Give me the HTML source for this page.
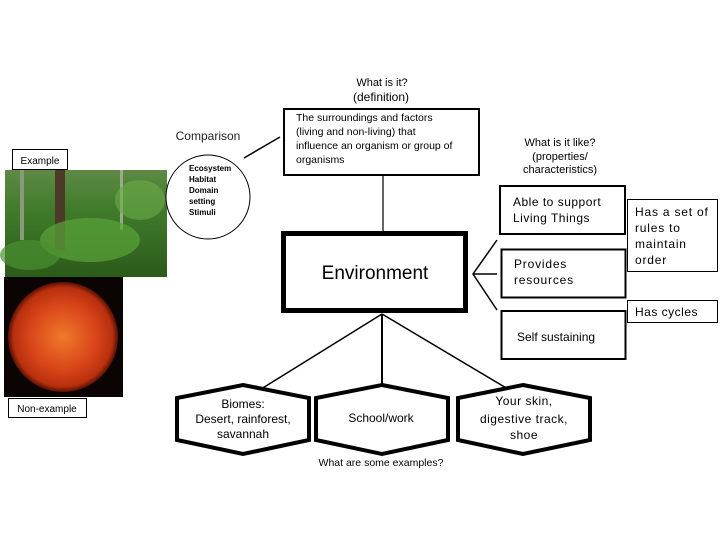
<!DOCTYPE html>
<html><head><meta charset="utf-8"><style>
body{margin:0;background:#fff;}
svg text{font-family:"Liberation Sans",sans-serif;}
</style></head><body>
<svg width="720" height="540" viewBox="0 0 720 540" xmlns="http://www.w3.org/2000/svg">
<defs>
<radialGradient id="sun" cx="50%" cy="50%" r="50%">
<stop offset="0" stop-color="#f07a2a"/><stop offset="0.6" stop-color="#d8451a"/><stop offset="0.9" stop-color="#b8300e"/><stop offset="1" stop-color="#5a1005"/>
</radialGradient>
<linearGradient id="forest" x1="0" y1="0" x2="0" y2="1">
<stop offset="0" stop-color="#5e8a45"/><stop offset="0.4" stop-color="#3f7a2a"/><stop offset="1" stop-color="#2c5a1a"/>
</linearGradient>
</defs>
<rect x="5" y="170" width="162" height="107" fill="url(#forest)"/>
<rect x="55" y="170" width="10" height="80" fill="#4a3a26"/>
<rect x="20" y="170" width="4" height="70" fill="#889a7a"/>
<rect x="120" y="170" width="3" height="60" fill="#9aaa8a"/>
<ellipse cx="90" cy="240" rx="50" ry="22" fill="#5aa43a" opacity="0.7"/>
<ellipse cx="30" cy="255" rx="30" ry="15" fill="#4a9030" opacity="0.7"/>
<ellipse cx="140" cy="200" rx="25" ry="20" fill="#6aac48" opacity="0.6"/>
<rect x="4" y="277" width="119" height="120" fill="#0a0503"/>
<circle cx="63" cy="337" r="55" fill="url(#sun)"/>
<rect x="12.5" y="149.5" width="55" height="20" fill="#fff" stroke="#000"/>
<text x="40" y="164" font-size="10" text-anchor="middle">Example</text>
<rect x="8.5" y="398.5" width="78" height="19" fill="#fff" stroke="#000"/>
<text x="47" y="412" font-size="10" text-anchor="middle">Non-example</text>
<text x="208" y="140" font-size="12" text-anchor="middle" fill="#222">Comparison</text>
<circle cx="208" cy="197" r="42" fill="#fff" stroke="#000" stroke-width="1"/>
<text font-size="8" font-weight="bold"><tspan x="189" y="171">Ecosystem</tspan><tspan x="189" y="182">Habitat</tspan><tspan x="189" y="193">Domain</tspan><tspan x="189" y="204">setting</tspan><tspan x="189" y="215">Stimuli</tspan></text>
<line x1="244" y1="158" x2="280" y2="137" stroke="#000" stroke-width="1.5"/>
<text x="382" y="86" font-size="11" text-anchor="middle">What is it?</text>
<text x="381" y="101" font-size="12" text-anchor="middle">(definition)</text>
<rect x="284" y="109" width="195" height="66" fill="#fff" stroke="#000" stroke-width="2"/>
<text font-size="10.5"><tspan x="296" y="121">The surroundings and factors</tspan><tspan x="296" y="135">(living and non-living) that</tspan><tspan x="296" y="149">influence an organism or group of</tspan><tspan x="296" y="163">organisms</tspan></text>
<line x1="383" y1="175" x2="383" y2="231" stroke="#000" stroke-width="1.2"/>
<rect x="283.5" y="233.5" width="182" height="77" fill="#fff" stroke="#000" stroke-width="5"/>
<text x="375" y="279" font-size="19" text-anchor="middle">Environment</text>
<polyline points="497,240 473,274 497,310" fill="none" stroke="#000" stroke-width="1.5"/>
<line x1="473" y1="274" x2="497" y2="274" stroke="#000" stroke-width="1.5"/>
<text x="560" y="146" font-size="11" text-anchor="middle">What is it like?</text>
<text x="560" y="160" font-size="11" text-anchor="middle">(properties/</text>
<text x="560" y="173" font-size="11" text-anchor="middle">characteristics)</text>
<rect x="500" y="186" width="125" height="48" fill="#fff" stroke="#000" stroke-width="2"/>
<text font-size="12" letter-spacing="0.5"><tspan x="513" y="206">Able to support</tspan><tspan x="513" y="222">Living Things</tspan></text>
<rect x="501.5" y="249.5" width="124" height="48" fill="#fff" stroke="#000" stroke-width="2"/>
<text font-size="12" letter-spacing="0.8"><tspan x="514" y="268">Provides</tspan><tspan x="514" y="284">resources</tspan></text>
<rect x="501.5" y="311" width="124" height="48" fill="#fff" stroke="#000" stroke-width="2"/>
<text x="517" y="341" font-size="12">Self sustaining</text>
<rect x="627.5" y="199.5" width="90" height="72" fill="#fff" stroke="#000"/>
<text font-size="12" letter-spacing="0.8"><tspan x="635" y="216">Has a set of</tspan><tspan x="635" y="232">rules to</tspan><tspan x="635" y="248">maintain</tspan><tspan x="635" y="264">order</tspan></text>
<rect x="627.5" y="300.5" width="90" height="22" fill="#fff" stroke="#000"/>
<text x="635" y="316" font-size="12" letter-spacing="0.5">Has cycles</text>
<line x1="382" y1="314" x2="245" y2="399" stroke="#000" stroke-width="1.5"/>
<line x1="382" y1="314" x2="382" y2="398" stroke="#000" stroke-width="2"/>
<line x1="382" y1="314" x2="523" y2="398" stroke="#000" stroke-width="1.5"/>
<polygon points="243,385 309,398 309,440 243,454 177,440 177,398" fill="#fff" stroke="#000" stroke-width="4"/>
<polygon points="382,385 448,398 448,440 382,454 316,440 316,398" fill="#fff" stroke="#000" stroke-width="4"/>
<polygon points="523,385 590,398 590,440 523,454 458,440 458,398" fill="#fff" stroke="#000" stroke-width="4"/>
<text font-size="12" text-anchor="middle"><tspan x="243" y="408">Biomes:</tspan><tspan x="243" y="423">Desert, rainforest,</tspan><tspan x="243" y="438">savannah</tspan></text>
<text x="381" y="422" font-size="12" text-anchor="middle">School/work</text>
<text font-size="12" text-anchor="middle" letter-spacing="0.5"><tspan x="524" y="405">Your skin,</tspan><tspan x="524" y="423">digestive track,</tspan><tspan x="524" y="439">shoe</tspan></text>
<text x="381" y="466" font-size="10.5" text-anchor="middle">What are some examples?</text>
</svg>
</body></html>
